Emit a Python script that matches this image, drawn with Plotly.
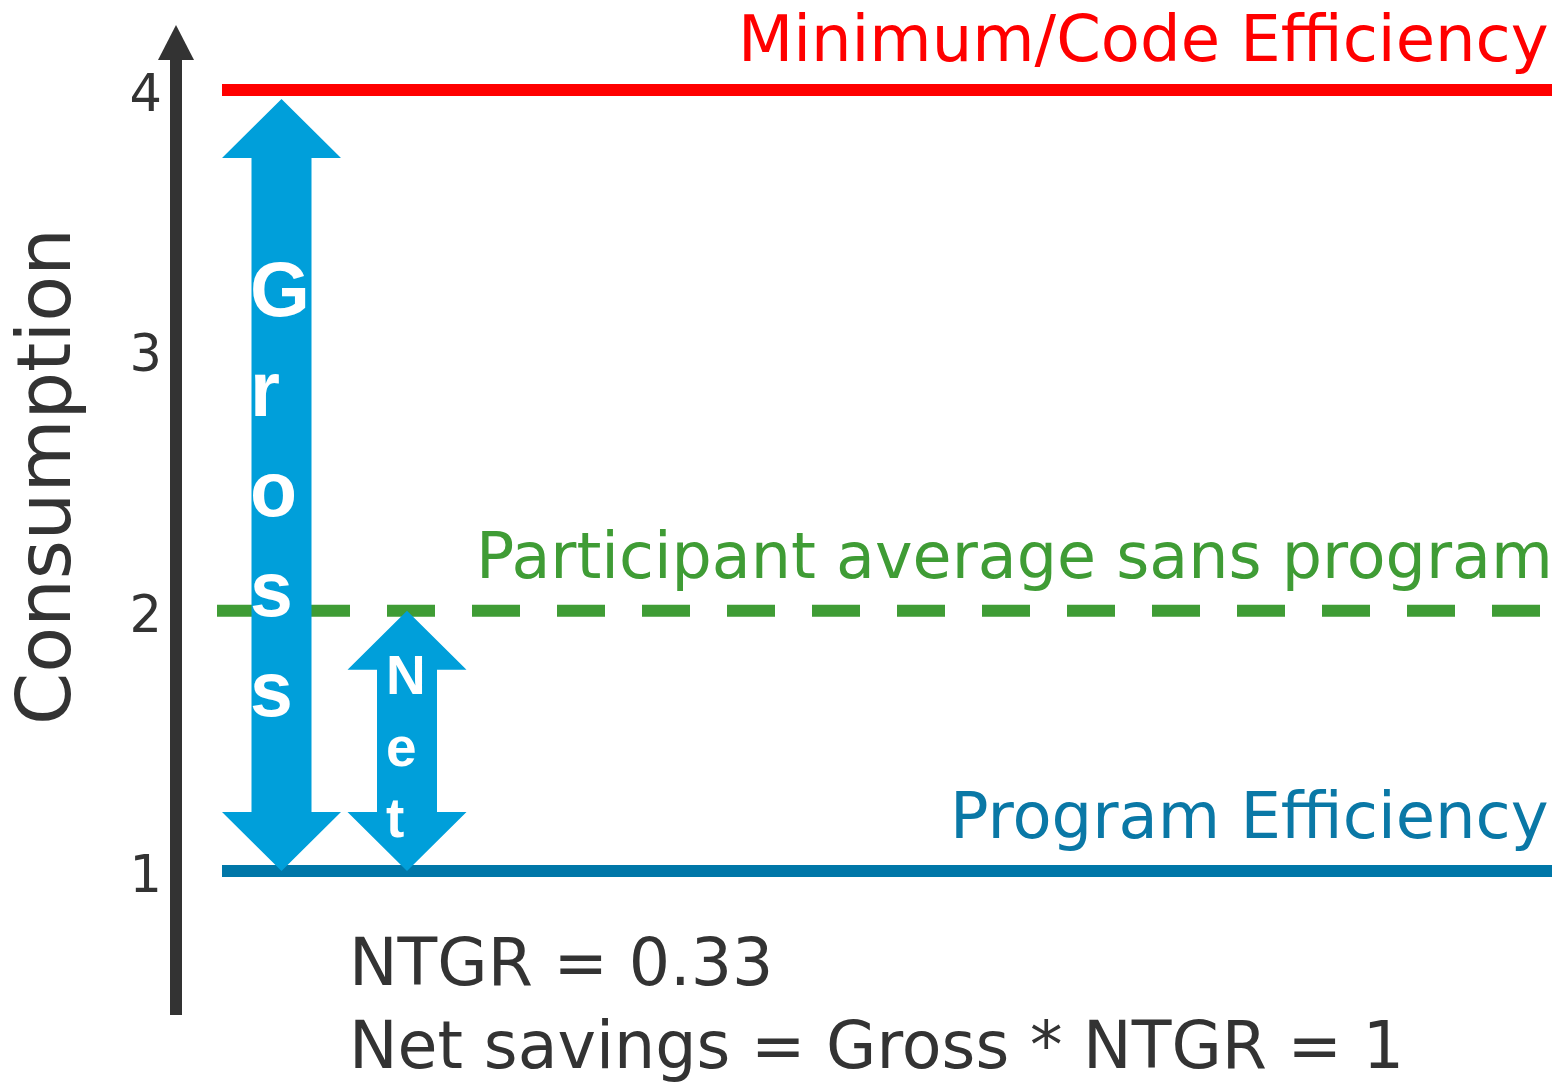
import plotly.graph_objects as go

# ---------------- data ----------------
level_names = ["Minimum/Code Efficiency", "Participant average sans program", "Program Efficiency"]
level_values = [4, 2, 1]
level_colors = ["#FF0000", "#3F9C35", "#0077A8"]
label_colors = ["#FF0000", "#3F9C35", "#0A78A6"]
level_dashes = ["solid", "48px,37px", "solid"]

arrow_names = ["Gross", "Net"]
arrow_top = [4, 2]
arrow_bottom = [1, 1]

tick_values = [1, 2, 3, 4]
tick_labels = ["1", "2", "3", "4"]

axis_title = "Consumption"
note_lines = ["NTGR = 0.33", "Net savings = Gross * NTGR = 1"]

# ---------------- layout constants (pixels) ----------------
W, H = 1562, 1084
PX_PER_UNIT = (871 - 90) / 3.0
Y_TOP = 4 + 90 / PX_PER_UNIT
Y_BOT = 1 - (H - 871) / PX_PER_UNIT
AXIS_X = 176
TEXT_DARK = "#333333"
ARROW_COLOR = "#009FDA"


def pyp(p):  # pixel row -> paper y
    return 1 - p / H


fig = go.Figure()

# horizontal level lines
line_x0 = [222, 217, 222]
line_x1 = 1552
for name, v, c, d, x0 in zip(level_names, level_values, level_colors, level_dashes, line_x0):
    fig.add_trace(go.Scatter(x=[x0, line_x1], y=[v, v], mode="lines",
                             line=dict(color=c, width=12, dash=d),
                             hoverinfo="skip", showlegend=False))

# double-headed block arrows
arrow_cx = [281.5, 407]
head_hw, shaft_hw = 59.5, 30
head_h = 59 / PX_PER_UNIT
top_gap = [9 / PX_PER_UNIT, 0]
for name, t, b, cx, g in zip(arrow_names, arrow_top, arrow_bottom, arrow_cx, top_gap):
    tt = t - g
    xs = [cx, cx + head_hw, cx + shaft_hw, cx + shaft_hw, cx + head_hw, cx,
          cx - head_hw, cx - shaft_hw, cx - shaft_hw, cx - head_hw, cx]
    ys = [tt, tt - head_h, tt - head_h, b + head_h, b + head_h, b,
          b + head_h, b + head_h, tt - head_h, tt - head_h, tt]
    fig.add_trace(go.Scatter(x=xs, y=ys, mode="lines", fill="toself",
                             fillcolor=ARROW_COLOR, line=dict(width=0, color=ARROW_COLOR),
                             hoverinfo="skip", showlegend=False))

annotations = []
# arrow letters
letter_x = [248, 384]
letter_size = [77, 55]
letter_shift = [-8, -6]
for name, t, b, lx, fs, sh in zip(arrow_names, arrow_top, arrow_bottom, letter_x, letter_size, letter_shift):
    annotations.append(dict(x=lx, y=(t + b) / 2, xref="x", yref="y",
                            text="<br>".join(list(name)), showarrow=False,
                            xanchor="left", yanchor="middle", align="left", yshift=sh,
                            font=dict(family="Liberation Sans, Arial", size=fs, color="white", weight="bold")))

# level labels
label_right = [1551, 1555, 1551]
label_size = [64, 63.5, 64]
label_shift = [51, 55, 55]
for name, v, c, xr, fs, sh in zip(level_names, level_values, label_colors, label_right, label_size, label_shift):
    annotations.append(dict(x=xr, y=v, xref="x", yref="y", text=name, showarrow=False,
                            xanchor="right", yanchor="middle", yshift=sh,
                            font=dict(family="DejaVu Sans", size=fs, color=c)))

# notes
note_rows = [962, 1045]
for txt, r in zip(note_lines, note_rows):
    annotations.append(dict(x=347, y=pyp(r), xref="x", yref="paper", text=txt, showarrow=False,
                            xanchor="left", yanchor="middle",
                            font=dict(family="DejaVu Sans", size=65, color=TEXT_DARK)))

# axis title
annotations.append(dict(x=44, y=pyp(477), xref="x", yref="paper", text=axis_title, showarrow=False,
                        textangle=-90, xanchor="center", yanchor="middle",
                        font=dict(family="DejaVu Sans", size=75, color=TEXT_DARK)))

shapes = [
    dict(type="line", xref="x", yref="paper", x0=AXIS_X, x1=AXIS_X, y0=pyp(1015), y1=pyp(58),
         line=dict(color=TEXT_DARK, width=12), layer="below"),
    dict(type="path", xref="x", yref="paper",
         path=f"M {AXIS_X - 18},{pyp(60)} L {AXIS_X},{pyp(25)} L {AXIS_X + 18},{pyp(60)} Z",
         fillcolor=TEXT_DARK, line=dict(width=0), layer="below"),
]

fig.update_layout(
    width=W, height=H, margin=dict(l=0, r=0, t=0, b=0),
    paper_bgcolor="white", plot_bgcolor="white",
    showlegend=False, annotations=annotations, shapes=shapes,
    xaxis=dict(range=[0, W], visible=False, fixedrange=True),
    yaxis=dict(range=[Y_BOT, Y_TOP], anchor="free", position=(AXIS_X - 6) / W, side="left",
               tickvals=tick_values, ticktext=tick_labels, ticks="", showline=False,
               showgrid=False, zeroline=False, ticklabelstandoff=8, ticklabelshift=3,
               tickfont=dict(family="DejaVu Sans", size=51, color=TEXT_DARK), fixedrange=True),
)

fig.write_html("out.html", config={"displayModeBar": False},
               post_script="document.body.style.margin='0';document.body.style.overflow='hidden';")
